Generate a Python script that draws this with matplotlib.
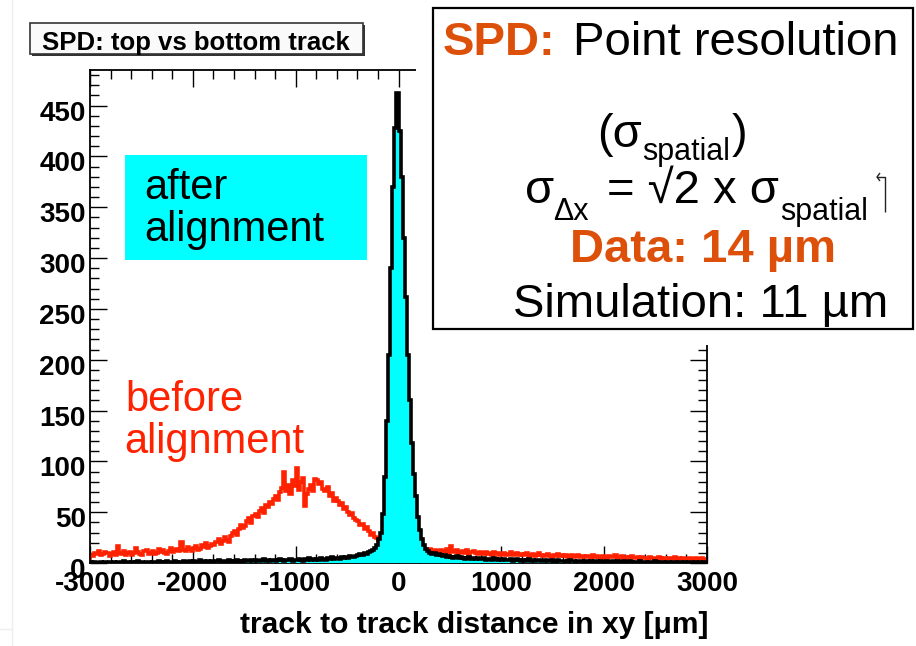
import numpy as np
import matplotlib
matplotlib.use("Agg")
import matplotlib.pyplot as plt
from matplotlib.patches import Rectangle
from matplotlib.lines import Line2D
from matplotlib.ticker import MultipleLocator
from matplotlib.transforms import ScaledTranslation

# ---------------------------------------------------------------------------
# Histogram contents: 300 bins of 20 um between -3000 and +3000 um
# ---------------------------------------------------------------------------
x_range = (-3000, 3000)
y_top = 485

# residuals before alignment (one row = 10 bins = 200 um)
before_counts = [
    8, 7, 10, 9, 12, 8, 9, 11, 10, 7,
    9, 11, 8, 17, 10, 9, 12, 8, 10, 11,
    8, 10, 15, 11, 9, 8, 12, 13, 9, 10,
    12, 9, 10, 14, 11, 13, 10, 9, 12, 15,
    11, 13, 14, 12, 21, 13, 12, 16, 14, 12,
    15, 17, 13, 14, 18, 16, 20, 15, 17, 19,
    18, 21, 24, 19, 22, 26, 23, 21, 27, 30,
    31, 28, 33, 37, 34, 36, 41, 44, 39, 46,
    48, 45, 51, 54, 49, 57, 55, 60, 58, 63,
    66, 62, 70, 74, 90, 71, 77, 68, 82, 76,
    93, 72, 80, 84, 56, 68, 73, 77, 71, 83,
    82, 78, 80, 73, 71, 75, 66, 69, 61, 64,
    61, 57, 59, 53, 55, 50, 47, 49, 44, 42,
    41, 37, 38, 33, 35, 31, 28, 30, 26, 25,
    23, 24, 20, 21, 19, 18, 20, 16, 17, 15,
    16, 15, 13, 16, 14, 12, 15, 14, 12, 13,
    14, 12, 15, 13, 11, 14, 12, 13, 11, 12,
    13, 11, 12, 14, 10, 17, 12, 11, 13, 10,
    11, 12, 10, 13, 9, 11, 12, 10, 9, 11,
    10, 9, 11, 9, 10, 8, 11, 9, 10, 8,
    9, 10, 8, 9, 11, 8, 9, 10, 8, 9,
    8, 9, 10, 7, 8, 9, 7, 8, 10, 8,
    7, 8, 9, 7, 6, 8, 7, 9, 7, 8,
    7, 8, 6, 7, 8, 6, 7, 8, 6, 7,
    6, 7, 7, 5, 8, 6, 7, 6, 5, 7,
    6, 5, 7, 6, 6, 8, 5, 6, 7, 5,
    6, 5, 6, 7, 5, 5, 6, 4, 6, 5,
    5, 4, 6, 5, 5, 4, 6, 5, 4, 5,
    4, 5, 5, 4, 6, 4, 5, 4, 5, 4,
    4, 5, 4, 3, 5, 4, 4, 5, 3, 4,
]

# residuals after alignment
after_counts = [
    1, 0, 1, 0, 0, 1, 0, 1, 0, 1,
    0, 1, 0, 1, 1, 0, 2, 0, 1, 0,
    1, 0, 1, 2, 0, 1, 0, 1, 1, 0,
    1, 1, 0, 2, 1, 0, 1, 2, 1, 1,
    1, 2, 1, 0, 1, 2, 1, 1, 2, 1,
    2, 1, 1, 3, 1, 2, 1, 2, 1, 2,
    1, 2, 3, 1, 2, 2, 1, 3, 2, 1,
    2, 3, 2, 1, 2, 3, 2, 2, 3, 2,
    3, 2, 2, 3, 4, 2, 3, 2, 3, 3,
    2, 3, 4, 3, 2, 3, 3, 4, 2, 3,
    3, 4, 3, 2, 4, 3, 5, 3, 4, 3,
    4, 3, 5, 4, 3, 5, 4, 6, 4, 5,
    5, 4, 6, 5, 6, 5, 7, 6, 6, 7,
    8, 9, 8, 10, 9, 11, 12, 13, 15, 18,
    24, 30, 48, 85, 140, 205, 290, 370, 428, 462,
    425, 380, 320, 262, 205, 160, 118, 88, 66, 45,
    32, 24, 18, 14, 12, 10, 9, 10, 8, 9,
    8, 7, 8, 6, 7, 6, 5, 6, 7, 5,
    6, 5, 4, 5, 6, 4, 5, 4, 5, 4,
    4, 5, 3, 4, 4, 3, 5, 4, 3, 4,
    3, 4, 3, 3, 4, 2, 3, 4, 3, 2,
    3, 2, 3, 4, 2, 3, 2, 3, 3, 2,
    2, 3, 2, 2, 3, 2, 1, 3, 2, 2,
    2, 1, 2, 3, 2, 2, 1, 2, 2, 1,
    2, 2, 1, 2, 1, 2, 2, 1, 2, 1,
    1, 2, 1, 1, 2, 1, 2, 1, 1, 2,
    1, 1, 2, 1, 0, 1, 1, 2, 1, 1,
    1, 0, 1, 1, 2, 1, 0, 1, 1, 0,
    1, 1, 0, 1, 1, 0, 1, 1, 0, 1,
    0, 1, 1, 0, 1, 0, 1, 0, 1, 0,
]

x_ticks = [-3000, -2000, -1000, 0, 1000, 2000, 3000]
y_ticks = [0, 50, 100, 150, 200, 250, 300, 350, 400, 450]

# ---------------------------------------------------------------------------
FONT = "Liberation Sans"
ORANGE = "#dc500a"
RED = "#ff2200"
CYAN = "#00ffff"

W, H = 916, 646
fig = plt.figure(figsize=(W / 100, H / 100), dpi=100)
fig.patch.set_facecolor("white")


def fx(px):
    return px / W


def fy(py):
    return 1 - py / H


ax = fig.add_axes([fx(90), fy(563), fx(707) - fx(90), fy(70) - fy(563)])

edges = np.linspace(x_range[0], x_range[1], len(before_counts) + 1)
ax.stairs(before_counts, edges, color=RED, lw=2.6, zorder=2)
ax.stairs(after_counts, edges, fill=True, color=CYAN, zorder=3)
ax.stairs(after_counts, edges, color="black", lw=2.6, zorder=4)

ax.set_xlim(*x_range)
ax.set_ylim(0, y_top)
ax.set_xticks(x_ticks)
ax.set_yticks(y_ticks)
ax.set_xticklabels([str(v) for v in x_ticks])
ax.set_yticklabels([str(v) for v in y_ticks])
ax.xaxis.set_minor_locator(MultipleLocator(200))
ax.yaxis.set_minor_locator(MultipleLocator(10))

ax.tick_params(which="both", direction="in", top=True, right=True,
               color="black", width=1.0)
ax.tick_params(which="major", length=12.5)
ax.tick_params(which="minor", length=6.5)
ax.tick_params(axis="x", which="major", pad=6)
ax.tick_params(axis="y", which="major", pad=3)
for lab in ax.get_xticklabels() + ax.get_yticklabels():
    lab.set_fontfamily(FONT)
    lab.set_fontweight("bold")
    lab.set_fontsize(20)
shift = ScaledTranslation(0, -5 / 100, fig.dpi_scale_trans)
for lab in ax.get_yticklabels():
    lab.set_transform(lab.get_transform() + shift)
for sp in ax.spines.values():
    sp.set_linewidth(1.3)

# axis title
fig.text(fx(708), fy(633), "track to track distance in xy [μm]",
         ha="right", va="baseline", fontsize=21.6, fontweight="bold",
         family=FONT)

# histogram title box with shadow
fig.add_artist(Rectangle((fx(32), fy(56)), fx(363) - fx(30), fy(23) - fy(54),
                         transform=fig.transFigure, facecolor="#333333",
                         edgecolor="none", zorder=5))
fig.add_artist(Rectangle((fx(30), fy(54)), fx(363) - fx(30), fy(23) - fy(54),
                         transform=fig.transFigure, facecolor="#fafafa",
                         edgecolor="#333333", lw=1.2, zorder=6))
fig.text(fx(196), fy(50), "SPD: top vs bottom track", ha="center",
         va="baseline", fontsize=18.5, fontweight="bold", family=FONT,
         zorder=7)

# "after alignment" label
fig.add_artist(Rectangle((fx(125), fy(260)), fx(367) - fx(125),
                         fy(155) - fy(260), transform=fig.transFigure,
                         facecolor=CYAN, edgecolor="none", zorder=5))
fig.text(fx(144), fy(199), "after", ha="left", va="baseline", fontsize=30,
         family=FONT, zorder=6)
fig.text(fx(144), fy(241), "alignment", ha="left", va="baseline",
         fontsize=30, family=FONT, zorder=6)

# "before alignment" label
fig.text(fx(125), fy(411), "before", ha="left", va="baseline", fontsize=30,
         family=FONT, color=RED, zorder=6)
fig.text(fx(124), fy(453), "alignment", ha="left", va="baseline",
         fontsize=30, family=FONT, color=RED, zorder=6)

# resolution summary panel
fig.add_artist(Rectangle((fx(416), fy(345)), 1 - fx(416), 1 - fy(345),
                         transform=fig.transFigure, facecolor="white",
                         edgecolor="none", zorder=8))
fig.add_artist(Rectangle((fx(433), fy(329)), fx(913) - fx(433),
                         fy(8) - fy(329), transform=fig.transFigure,
                         facecolor="white", edgecolor="black", lw=1.6,
                         zorder=9))

big = 34
small = 22
fig.text(fx(443), fy(55), "SPD:", ha="left", va="baseline", fontsize=big,
         fontweight="bold", color=ORANGE, family=FONT, zorder=10)
fig.text(fx(573), fy(55), "Point resolution", ha="left", va="baseline",
         fontsize=big, family=FONT, zorder=10)

fig.text(fx(597), fy(147), "(σ", ha="left", va="baseline", fontsize=big,
         family=FONT, zorder=10)
fig.text(fx(642), fy(160), "spatial", ha="left", va="baseline",
         fontsize=small, family=FONT, zorder=10)
fig.text(fx(732), fy(147), ")", ha="left", va="baseline", fontsize=big,
         family=FONT, zorder=10)

fig.text(fx(525), fy(203), "σ", ha="left", va="baseline", fontsize=big,
         family=FONT, zorder=10)
fig.text(fx(553), fy(220), "Δx", ha="left", va="baseline", fontsize=small,
         family=FONT, zorder=10)
fig.text(fx(607), fy(203), "= √2 x σ", ha="left", va="baseline",
         fontsize=big, family=FONT, zorder=10)
fig.text(fx(780), fy(220), "spatial", ha="left", va="baseline",
         fontsize=small, family=FONT, zorder=10)

# small hooked stroke after the formula
hook = dict(transform=fig.transFigure, color="#222222", lw=1.0, zorder=10,
            solid_capstyle="butt")
fig.add_artist(Line2D([fx(885), fx(885), fx(877)],
                      [fy(212), fy(177), fy(177)], **hook))
fig.add_artist(Line2D([fx(880), fx(877), fx(880)],
                      [fy(173), fy(177), fy(181)], **hook))

fig.text(fx(570), fy(262), "Data: 14 µm", ha="left", va="baseline",
         fontsize=big, fontweight="bold", color=ORANGE, family=FONT,
         zorder=10)
fig.text(fx(513), fy(317), "Simulation: 11 µm", ha="left", va="baseline",
         fontsize=big, family=FONT, zorder=10)

# faint page edge on the left
fig.add_artist(Line2D([fx(12), fx(12)], [0, 1], transform=fig.transFigure,
                      color="#eeeeee", lw=1, zorder=1))
fig.add_artist(Line2D([0, fx(12)], [fy(629), fy(629)],
                      transform=fig.transFigure, color="#eeeeee", lw=1,
                      zorder=1))

fig.savefig("out.png", dpi=100)
